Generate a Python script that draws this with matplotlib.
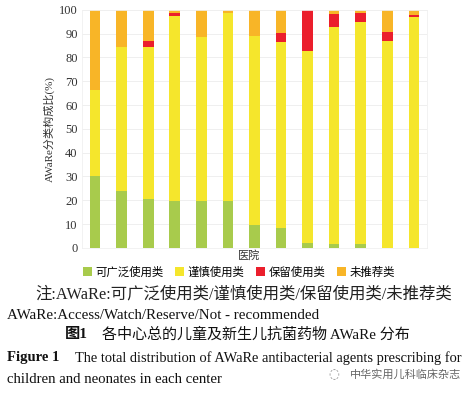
import numpy as np
import matplotlib.pyplot as plt

# stacked shares per hospital (%)
hospitals = np.arange(1, 14)
access = [30, 23.7, 20.5, 19.5, 19.5, 19.5, 9.7, 8.5, 2, 1.5, 1.5, 0, 0]
watch = [36.5, 60.8, 64, 78, 69, 79, 79.3, 78.2, 80.5, 91.1, 93.2, 87, 97]
reserve = [0, 0, 2.5, 1, 0, 0, 0, 3.6, 17.5, 5.6, 3.9, 3.5, 0.9]
notrec = [100 - a - w - r for a, w, r in zip(access, watch, reserve)]

labels = ['可广泛使用类', '谨慎使用类', '保留使用类', '未推荐类']
colors = ['#A8CB4C', '#F5E62C', '#EB1E2C', '#F8B527']

fam = ['Liberation Serif', 'Noto Sans CJK SC']
plt.rcParams['font.family'] = fam

fig = plt.figure(figsize=(4.73, 3.94), dpi=100)
ax = fig.add_axes([0.173, 0.371, 0.730, 0.604])

bottom = np.zeros(len(hospitals))
for vals, lab, c in zip([access, watch, reserve, notrec], labels, colors):
    ax.bar(hospitals, vals, bottom=bottom, width=0.4, color=c, label=lab, zorder=2)
    bottom += np.array(vals)

ax.set_xlim(0.5, 13.5)
ax.set_ylim(0, 100)
ax.set_yticks(np.arange(0, 101, 10))
ax.set_xticks([])
ax.tick_params(axis='y', length=0, labelsize=9, colors='#333333', pad=3)
ax.grid(axis='y', color='#ececec', linewidth=0.6, zorder=0)
for s in ax.spines.values():
    s.set_color('#f0f0f0')
    s.set_linewidth(0.6)
ax.set_ylabel('AWaRe分类构成比(%)', fontsize=8, color='#333333', labelpad=3)
ax.set_xlabel('医院', fontsize=8, color='#333333', labelpad=2, family='Noto Sans CJK SC')
ax.xaxis.label.set_x(0.485)

ax.legend(loc='upper center', bbox_to_anchor=(0.455, -0.035), ncol=4, frameon=False,
          handlelength=0.8, handleheight=0.8, handletextpad=0.3,
          columnspacing=1.0, prop={'family': 'Noto Sans CJK SC', 'size': 8.2})

fig.text(0.516, 0.253, '注:AWaRe:可广泛使用类/谨慎使用类/保留使用类/未推荐类',
         ha='center', va='center', fontsize=11.8, color='#222222')
fig.text(0.015, 0.200, 'AWaRe:Access/Watch/Reserve/Not - recommended',
         ha='left', va='center', fontsize=10.8, color='#111111')
fig.text(0.138, 0.150, '图1', ha='left', va='center', fontsize=11,
         color='#111111', fontweight='bold')
fig.text(0.215, 0.150, '各中心总的儿童及新生儿抗菌药物 AWaRe 分布',
         ha='left', va='center', fontsize=10.8, color='#111111')
fig.text(0.015, 0.092, r'Figure 1', ha='left', va='center', fontsize=10.5,
         fontweight='bold', color='#111111')
fig.text(0.158, 0.092, 'The total distribution of AWaRe antibacterial agents prescribing for',
         ha='left', va='center', fontsize=10.4, color='#111111')
fig.text(0.015, 0.036, 'children and neonates in each center',
         ha='left', va='center', fontsize=10.6, color='#111111')
fig.text(0.975, 0.050, '中华实用儿科临床杂志', ha='right', va='center',
         fontsize=8, color='#666666', family='Noto Sans CJK SC',
         bbox=dict(facecolor='white', edgecolor='none', pad=1))
fig.text(0.705, 0.050, '◌', ha='center', va='center', fontsize=9,
         color='#888888', family='DejaVu Sans')

fig.savefig('out.png', dpi=100)
